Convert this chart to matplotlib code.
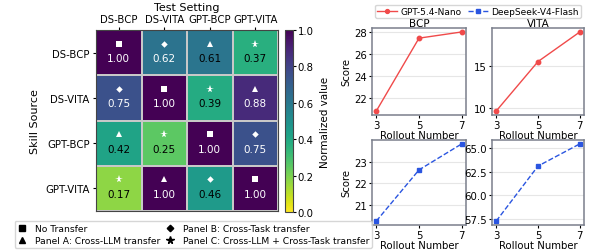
import matplotlib
matplotlib.use("Agg")
import matplotlib.pyplot as plt
from matplotlib.lines import Line2D
import numpy as np

SETTINGS = ["DS-BCP", "DS-VITA", "GPT-BCP", "GPT-VITA"]
NORM_VALUES = [
    [1.00, 0.62, 0.61, 0.37],
    [0.75, 1.00, 0.39, 0.88],
    [0.42, 0.25, 1.00, 0.75],
    [0.17, 1.00, 0.46, 1.00],
]
ROLLOUTS = [3, 5, 7]
GPT_BCP = [20.83, 27.42, 27.98]
GPT_VITA = [9.6, 15.48, 19.0]
DS_BCP = [20.25, 22.63, 23.84]
DS_VITA = [57.25, 63.1, 65.46]
YTICKS_GPT_BCP = [22, 24, 26, 28]
YTICKS_GPT_VITA = [10, 15]
YTICKS_DS_BCP = [21, 22, 23]
YTICKS_DS_VITA = [57.5, 60.0, 62.5, 65.0]

RED = "#f04a4a"
BLUE = "#2a55e0"
SPINE = "#7a7f8c"

plt.rcParams.update({"font.size": 7.3})

fig = plt.figure(figsize=(5.91, 2.53), dpi=100)
W, H = 591, 253


def px_axes(x0, y0, x1, y1):
    return fig.add_axes([x0 / W, 1 - y1 / H, (x1 - x0) / W, (y1 - y0) / H])


# heatmap
ax = px_axes(96, 31, 278, 212)
vals = np.array(NORM_VALUES)
mesh = ax.pcolormesh(vals, cmap="viridis_r", vmin=0, vmax=1,
                     edgecolor="#c8c8c8", linewidth=0.3)
ax.set_xlim(0, 4)
ax.set_ylim(4, 0)
for i in range(4):
    for j in range(4):
        src_llm, src_task = SETTINGS[i].split("-")
        tgt_llm, tgt_task = SETTINGS[j].split("-")
        if i == j:
            mk, ms = "s", 3.8
        elif src_llm == tgt_llm:
            mk, ms = "D", 3.3
        elif src_task == tgt_task:
            mk, ms = "^", 4.2
        else:
            mk, ms = "*", 5.8
        ax.plot(j + 0.5, i + 0.3, marker=mk, color="white", markersize=ms,
                markeredgewidth=0)
        v = vals[i, j]
        ax.text(j + 0.5, i + 0.62, f"{v:.2f}", ha="center", va="center",
                fontsize=7.5, color="white" if v > 0.615 else "black")
ax.set_xticks(np.arange(4) + 0.5)
ax.set_xticklabels(SETTINGS)
ax.set_yticks(np.arange(4) + 0.5)
ax.set_yticklabels(SETTINGS)
ax.xaxis.tick_top()
ax.xaxis.set_label_position("top")
ax.tick_params(length=2.5, pad=2)
ax.set_xlabel("Test Setting", fontsize=8, labelpad=3)
ax.set_ylabel("Skill Source", fontsize=8)
for s in ax.spines.values():
    s.set_color("#444444")

cax = px_axes(285, 31, 293, 213)
cb = fig.colorbar(mesh, cax=cax)
cb.set_label("Normalized value", fontsize=7.5)
cb.set_ticks([0, 0.2, 0.4, 0.6, 0.8, 1.0])
cb.ax.tick_params(length=2.5, pad=1)
cb.outline.set_edgecolor("#444444")

handles = [
    Line2D([], [], ls="none", marker="s", color="black", markersize=3.8),
    Line2D([], [], ls="none", marker="^", color="black", markersize=4.2),
    Line2D([], [], ls="none", marker="D", color="black", markersize=3.3),
    Line2D([], [], ls="none", marker="*", color="black", markersize=5.5),
]
labels = ["No Transfer", "Panel A: Cross-LLM transfer",
          "Panel B: Cross-Task transfer", "Panel C: Cross-LLM + Cross-Task transfer"]
fig.legend(handles, labels, ncol=2, fontsize=6.6, loc="upper left",
           bbox_to_anchor=(10 / W, 1 - 217 / H), handletextpad=0.9,
           columnspacing=0.5, borderpad=0.35, labelspacing=0.35,
           handlelength=1.0, fancybox=True, edgecolor="#cccccc")

# line panels
panels = [
    ((372, 29, 466, 116), GPT_BCP, RED, "-", "o", "BCP", True, YTICKS_GPT_BCP),
    ((492, 29, 584, 116), GPT_VITA, RED, "-", "o", "VITA", False, YTICKS_GPT_VITA),
    ((372, 141, 466, 226), DS_BCP, BLUE, "--", "s", None, True, YTICKS_DS_BCP),
    ((492, 141, 584, 226), DS_VITA, BLUE, "--", "s", None, False, YTICKS_DS_VITA),
]
for box, ys, col, ls, mk, title, score, yt in panels:
    a = px_axes(*box)
    a.plot(ROLLOUTS, ys, color=col, ls=ls, marker=mk, markersize=3.2,
           linewidth=1)
    a.set_xticks(ROLLOUTS)
    a.set_yticks(yt)
    if yt == YTICKS_DS_VITA:
        a.set_yticklabels([f"{t:.1f}" for t in yt])
    a.set_xlabel("Rollout Number", labelpad=0)
    if title:
        a.set_title(title, fontsize=7.5, pad=1.5)
    if score:
        a.set_ylabel("Score", labelpad=2)
    a.grid(axis="y", color="#e6e6e6", linewidth=0.8)
    a.set_axisbelow(True)
    a.tick_params(length=2, pad=1.5)
    for s in a.spines.values():
        s.set_color(SPINE)
        s.set_linewidth(1.1)

leg_handles = [
    Line2D([], [], color=RED, ls="-", marker="o", markersize=2.8, linewidth=1),
    Line2D([], [], color=BLUE, ls="--", marker="s", markersize=2.8, linewidth=1),
]
fig.legend(leg_handles, ["GPT-5.4-Nano", "DeepSeek-V4-Flash"], ncol=2,
           fontsize=6.5, loc="upper center",
           bbox_to_anchor=(478 / W, 1 - 1 / H), handlelength=2.2,
           handletextpad=0.4, columnspacing=0.7, borderpad=0.25,
           edgecolor="#cccccc")

fig.savefig("out.png", dpi=100)
